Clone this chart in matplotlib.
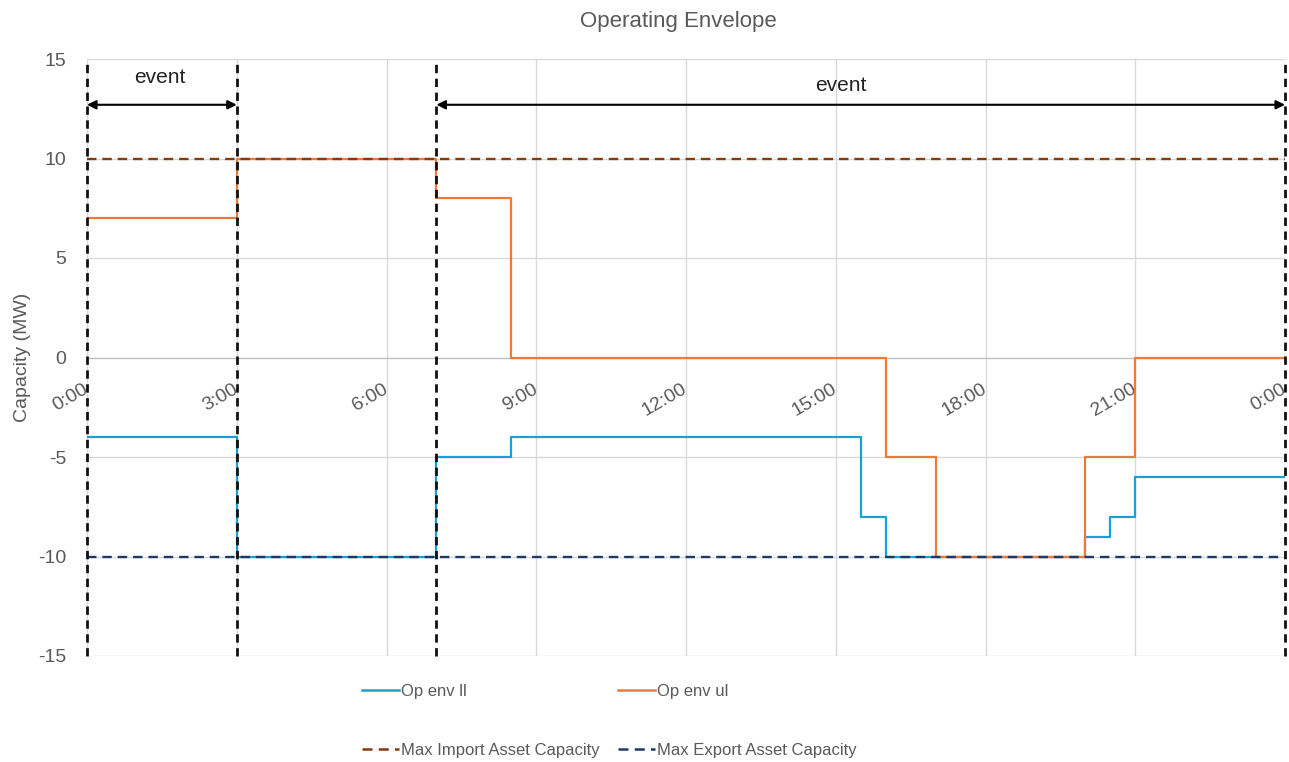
import numpy as np
import matplotlib
matplotlib.use('Agg')
import matplotlib.pyplot as plt
from matplotlib.lines import Line2D

# operating envelope, hours of the day vs MW
ll_hours = [0, 3, 7, 8.5, 15.5, 16, 20, 20.5, 21, 24]
ll_mw = [-4, -10, -5, -4, -8, -10, -9, -8, -6, -6]

ul_hours = [0, 3, 7, 8.5, 16, 17, 20, 21, 24]
ul_mw = [7, 10, 8, 0, -5, -10, -5, 0, 0]

max_import = 10
max_export = -10

event_bounds = [0, 3, 7, 24]
events = [(0, 3), (7, 24)]

tick_hours = [0, 3, 6, 9, 12, 15, 18, 21, 24]
tick_labels = ['0:00', '3:00', '6:00', '9:00', '12:00', '15:00', '18:00', '21:00', '0:00']

blue = '#1aa0d8'
orange = '#ee7a3a'
brown = '#843c0c'
navy = '#1f3864'
grey = '#595959'

plt.rcParams['font.family'] = ['Liberation Sans', 'DejaVu Sans']
plt.rcParams['axes.unicode_minus'] = False

fig = plt.figure(figsize=(12.89, 7.62), dpi=100)
ax = fig.add_axes([87/1289, 1 - 656/762, (1285-87)/1289, (656-59)/762])

# x axis crosses at 0, do this before the tick labels so they keep their style
for s in ['top', 'right', 'left']:
    ax.spines[s].set_visible(False)
ax.spines['bottom'].set_position(('data', 0))
ax.spines['bottom'].set_color('#bfbfbf')

ax.step(ll_hours, ll_mw, where='post', color=blue, lw=1.6, zorder=3)
ax.step(ul_hours, ul_mw, where='post', color=orange, lw=1.6, zorder=3)
ax.axhline(max_import, color=brown, lw=1.7, ls=(0, (4, 2.5)), zorder=4)
ax.axhline(max_export, color=navy, lw=1.7, ls=(0, (4, 2.5)), zorder=4)

for h in event_bounds:
    ax.axvline(h, color='#111111', lw=2.0, ls=(0, (3, 2)), zorder=5, clip_on=False)

for (a, b) in events:
    ax.annotate('', xy=(a, 12.7), xytext=(b, 12.7),
                arrowprops=dict(arrowstyle='<|-|>', color='black', lw=1.5,
                                mutation_scale=13, shrinkA=0, shrinkB=0),
                zorder=6)
ax.text(1.46, 14.05, 'event', ha='center', va='center', fontsize=15, color='#222222')
ax.text(15.1, 13.65, 'event', ha='center', va='center', fontsize=15, color='#222222')

ax.set_xlim(0, 24)
ax.set_ylim(-15, 15)
ax.set_yticks([-15, -10, -5, 0, 5, 10, 15])
ax.set_xticks(tick_hours)
ax.set_xticklabels(tick_labels, rotation=30, ha='right', va='center',
                   rotation_mode='anchor')
ax.tick_params(axis='both', length=0, labelsize=14, colors=grey)
ax.tick_params(axis='x', pad=22)
ax.tick_params(axis='y', pad=15)
ax.grid(True, color='#d9d9d9', lw=1)
ax.set_axisbelow(True)

ax.set_ylabel('Capacity (MW)', fontsize=14, color=grey, labelpad=5)
fig.text(678/1289, 1 - 21/762, 'Operating Envelope', ha='center', va='center',
         fontsize=16, color=grey)

handles = [
    Line2D([], [], color=blue, lw=1.8),
    Line2D([], [], color=brown, lw=1.8, ls=(0, (4, 2.5))),
    Line2D([], [], color=orange, lw=1.8),
    Line2D([], [], color=navy, lw=1.8, ls=(0, (4, 2.5))),
]
labels = ['Op env ll', 'Max Import Asset Capacity', 'Op env ul', 'Max Export Asset Capacity']
fig.legend(handles, labels, ncol=2, loc='center left', bbox_to_anchor=(362/1289, 41/762),
           frameon=False, handlelength=2.2, handletextpad=0.15,
           labelspacing=2.65, columnspacing=1.1, labelcolor=grey,
           borderpad=0, borderaxespad=0, fontsize=12)

fig.savefig('out.png', dpi=100)
